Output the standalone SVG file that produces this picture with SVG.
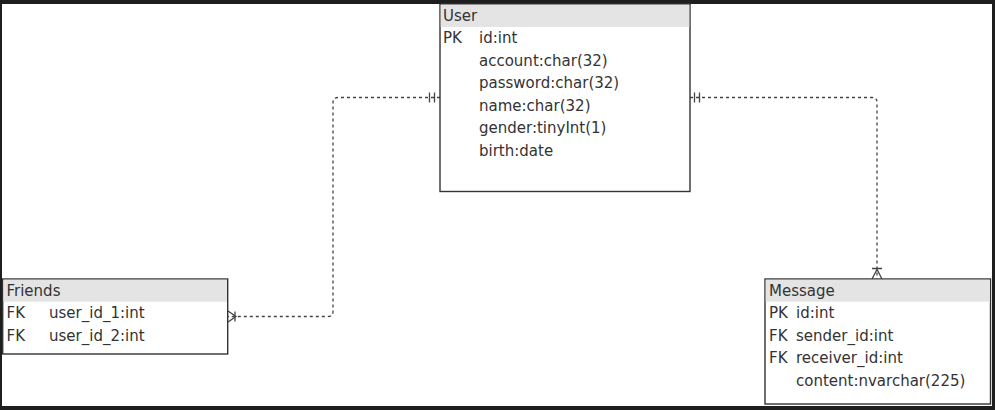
<svg xmlns="http://www.w3.org/2000/svg" width="995" height="410" viewBox="0 0 995 410">
<style>
.box{fill:#fff;stroke:#333;stroke-width:1.4}
.hdr{fill:#e4e4e4}
.t{font-family:"DejaVu Sans",Verdana,sans-serif;font-size:15px;fill:#333}
.conn{fill:none;stroke:#444;stroke-width:1.3;stroke-dasharray:3 3}
.mk{fill:none;stroke:#444;stroke-width:1.3}
</style>
<rect x="0" y="0" width="995" height="410" fill="#1e1e1e"/>
<rect x="2" y="4" width="990" height="402" fill="#fff"/>
<g id="connectors">
<path class="conn" d="M 440 97.5 H 338 Q 333 97.5 333 102.5 V 311.5 Q 333 316.5 328 316.5 H 228"/>
<path class="conn" d="M 690 97.5 H 872 Q 877 97.5 877 102.5 V 279"/>
<path class="mk" d="M 429.5 92.5 V 102.5 M 434.5 92.5 V 102.5"/>
<path class="mk" d="M 694.5 92.5 V 102.5 M 699.5 92.5 V 102.5"/>
<path class="mk" d="M 235 311.5 V 321.5 M 228 311 L 236 316.5 L 228 322"/>
<path class="mk" d="M 872 268.5 H 882 M 872 279 L 877 269.5 L 882 279"/>
</g>
<g id="user">
<rect class="box" x="440" y="4" width="250" height="187.5"/>
<rect class="hdr" x="440.7" y="4.7" width="248.6" height="22.3"/>
<text class="t" x="443" y="20.7">User</text>
<text class="t" x="443" y="43">PK</text>
<text class="t" x="479" y="43">id:int</text>
<text class="t" x="479" y="65.5">account:char(32)</text>
<text class="t" x="479" y="88">password:char(32)</text>
<text class="t" x="479" y="110.5">name:char(32)</text>
<text class="t" x="479" y="133">gender:tinyInt(1)</text>
<text class="t" x="479" y="155.5">birth:date</text>
</g>
<g id="friends">
<rect class="box" x="2.7" y="279" width="225" height="75"/>
<rect class="hdr" x="3.4" y="279.7" width="223.6" height="22"/>
<text class="t" x="6.5" y="296">Friends</text>
<text class="t" x="6.5" y="318.3">FK</text>
<text class="t" x="49" y="318.3">user_id_1:int</text>
<text class="t" x="6.5" y="340.7">FK</text>
<text class="t" x="49" y="340.7">user_id_2:int</text>
</g>
<g id="message">
<rect class="box" x="765" y="279" width="225.5" height="125"/>
<rect class="hdr" x="765.7" y="279.7" width="224.1" height="22"/>
<text class="t" x="769" y="296">Message</text>
<text class="t" x="769" y="318.3">PK</text>
<text class="t" x="796" y="318.3">id:int</text>
<text class="t" x="769" y="341">FK</text>
<text class="t" x="796" y="341">sender_id:int</text>
<text class="t" x="769" y="363.3">FK</text>
<text class="t" x="796" y="363.3">receiver_id:int</text>
<text class="t" x="796" y="385.5">content:nvarchar(225)</text>
</g>
</svg>
